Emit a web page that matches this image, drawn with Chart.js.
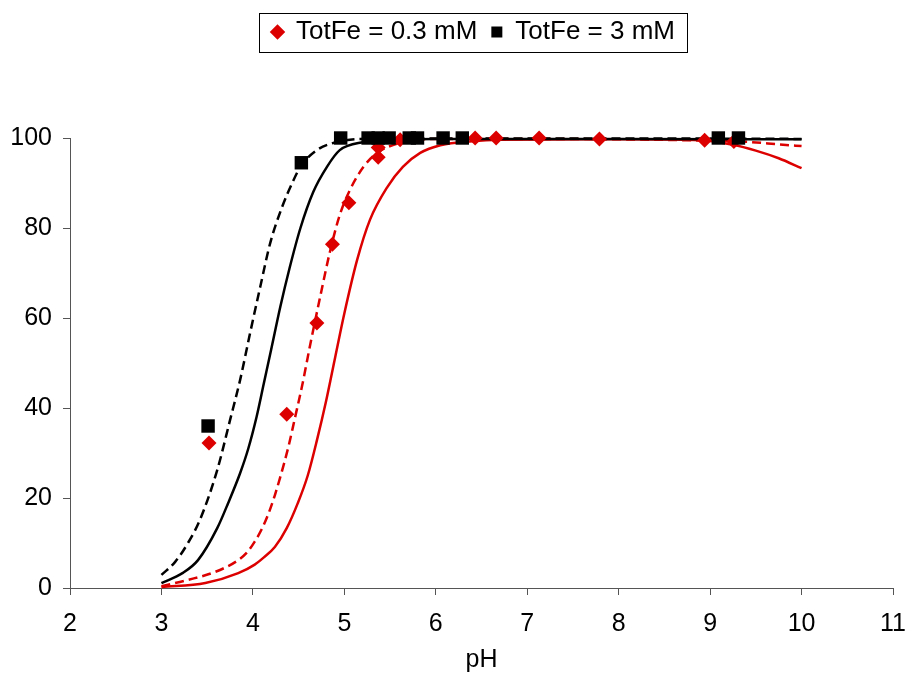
<!DOCTYPE html>
<html>
<head>
<meta charset="utf-8">
<title>Fe removal vs pH</title>
<script src="https://cdn.jsdelivr.net/npm/chart.js@4.4.1/dist/chart.umd.min.js"></script>
<style>
  html, body { margin: 0; padding: 0; background: #fff; }
  canvas { display: block; }
</style>
</head>
<body>
<canvas id="ironChart" width="908" height="675"></canvas>
<script>
// ── Measured removal (%) vs pH ───────────────────────────────────────────────
const hiFePH  = [3.51, 4.53, 4.96, 5.26, 5.37, 5.49, 5.71, 5.80, 6.08, 6.29, 9.09, 9.31];
const hiFePct = [36.0, 94.5, 100, 100, 100, 100, 100, 100, 100, 100, 100, 100];

const loFePH  = [3.52, 4.37, 4.70, 4.87, 5.05, 5.37, 5.37, 5.61, 6.43, 6.66, 7.13, 7.79, 8.94, 9.26];
const loFePct = [32.2, 38.6, 58.9, 76.4, 85.6, 95.7, 97.9, 99.6, 100, 100, 100, 99.8, 99.5, 99.2];

// ── Model curves ─────────────────────────────────────────────────────────────
// black dashed
const hiFitAPH  = [3.00, 3.15, 3.29, 3.42, 3.61, 3.75, 3.86, 3.97, 4.08, 4.19, 4.32, 4.43, 4.52, 4.70, 4.88, 5.17, 6.00, 8.00, 10.00];
const hiFitAPct = [2.9, 5.8, 10.0, 15.1, 26.2, 37.3, 46.2, 56.7, 66.9, 76.7, 84.7, 90.0, 93.6, 97.3, 98.9, 99.8, 99.9, 99.9, 99.8];
// black solid
const hiFitBPH  = [3.00, 3.23, 3.40, 3.61, 3.73, 3.86, 3.95, 4.04, 4.12, 4.20, 4.30, 4.40, 4.52, 4.66, 4.81, 4.95, 5.21, 5.47, 6.00, 8.00, 10.00];
const hiFitBPct = [1.1, 3.3, 6.2, 13.3, 18.9, 25.5, 31.0, 38.0, 45.5, 53.0, 62.5, 71.0, 80.0, 88.0, 93.6, 97.3, 99.1, 99.6, 99.8, 99.8, 99.7];
// red dashed
const loFitAPH  = [3.00, 3.29, 3.59, 3.84, 3.94, 4.02, 4.10, 4.17, 4.24, 4.30, 4.39, 4.46, 4.54, 4.63, 4.74, 4.84, 4.95, 5.06, 5.21, 5.36, 5.61, 6.02, 7.00, 8.00, 9.00, 9.44, 9.74, 10.00];
const loFitAPct = [0.4, 1.8, 3.6, 6.2, 8.0, 10.3, 13.2, 16.5, 20.6, 24.7, 31.5, 37.8, 45.1, 54.4, 65.1, 74.5, 82.9, 88.4, 93.6, 96.7, 98.9, 99.8, 99.8, 99.7, 99.4, 99.1, 98.6, 98.2];
// red solid
const loFitBPH  = [3.00, 3.48, 3.84, 4.02, 4.12, 4.24, 4.37, 4.49, 4.60, 4.70, 4.80, 4.90, 5.00, 5.14, 5.28, 5.47, 5.64, 5.83, 6.05, 6.40, 6.70, 8.00, 8.90, 9.25, 9.50, 9.75, 10.00];
const loFitBPct = [0.2, 1.1, 3.3, 5.2, 6.8, 9.1, 13.3, 18.8, 25.0, 32.8, 41.5, 51.3, 61.0, 72.9, 81.8, 89.1, 93.6, 96.7, 98.4, 99.3, 99.6, 99.7, 99.5, 98.5, 97.2, 95.5, 93.3];

// ── Axis ticks ───────────────────────────────────────────────────────────────
const X_MIN = 2, X_MAX = 11, X_STEP = 1;
const Y_MIN = 0, Y_MAX = 100, Y_STEP = 20;

const RED   = '#dd0000';
const BLACK = '#000000';
const AXIS  = '#555555';

const zip = (xs, ys) => xs.map((x, i) => ({ x, y: ys[i] }));

function curve(label, xs, ys, color, dashed) {
  return {
    label,
    data: zip(xs, ys),
    showLine: true,
    borderColor: color,
    borderWidth: 2.5,
    borderDash: dashed ? [9, 5] : [],
    pointRadius: 0,
    pointHoverRadius: 0,
    cubicInterpolationMode: 'monotone',
    fill: false,
    clip: false,
  };
}

// Legend needs a wide gap above the plot, and a thin frame round its items.
const legendSpacer = {
  id: 'legendSpacer',
  beforeInit(chart) {
    const fit = chart.legend.fit;
    chart.legend.fit = function () {
      fit.call(this);
      this.height += 83;
    };
  },
  afterLayout(chart) {
    // sits a touch left of the plot centre
    chart.legend.left -= 8;
    chart.legend.right -= 8;
  },
};

const legendFrame = {
  id: 'legendFrame',
  afterDraw(chart) {
    const boxes = chart.legend && chart.legend.legendHitBoxes;
    if (!boxes || !boxes.length) return;
    const left   = Math.min(...boxes.map(b => b.left)) - 13;
    const right  = Math.max(...boxes.map(b => b.left + b.width)) + 12;
    const top    = boxes[0].top - 6;
    const bottom = boxes[0].top + boxes[0].height + 7;
    const ctx = chart.ctx;
    ctx.save();
    ctx.strokeStyle = BLACK;
    ctx.lineWidth = 1;
    ctx.strokeRect(Math.round(left) + 0.5, Math.round(top) + 0.5,
                   Math.round(right - left), Math.round(bottom - top));
    ctx.restore();
  },
};

Chart.defaults.font.family = "'Liberation Sans', Arial, sans-serif";
Chart.defaults.color = BLACK;

new Chart(document.getElementById('ironChart'), {
  type: 'scatter',
  data: {
    datasets: [
      {
        label: 'TotFe = 3 mM',
        data: zip(hiFePH, hiFePct),
        pointStyle: 'rect',
        pointRadius: 9.5,
        backgroundColor: BLACK,
        borderColor: BLACK,
        borderWidth: 0,
        clip: false,
      },
      {
        label: 'TotFe = 0.3 mM',
        data: zip(loFePH, loFePct),
        pointStyle: 'rectRot',
        pointRadius: 7.5,
        backgroundColor: RED,
        borderColor: RED,
        borderWidth: 0,
        clip: false,
      },
      curve('fit 3 mM (a)', hiFitAPH, hiFitAPct, BLACK, true),
      curve('fit 3 mM (b)', hiFitBPH, hiFitBPct, BLACK, false),
      curve('fit 0.3 mM (a)', loFitAPH, loFitAPct, RED, true),
      curve('fit 0.3 mM (b)', loFitBPH, loFitBPct, RED, false),
    ],
  },
  options: {
    responsive: false,
    animation: false,
    layout: { padding: { left: 0, right: 15, top: 5, bottom: 0 } },
    scales: {
      x: {
        type: 'linear',
        min: X_MIN,
        max: X_MAX,
        ticks: { stepSize: X_STEP, padding: 14, color: BLACK, font: { size: 25 } },
        grid: { drawOnChartArea: false, drawTicks: true, tickLength: 7, color: AXIS },
        border: { display: true, color: AXIS, width: 1 },
        title: { display: true, text: 'pH', color: BLACK, font: { size: 25 }, padding: { top: 0, bottom: 0 } },
        afterFit(scale) {
          scale.height = 87;
          scale.paddingLeft = 0;
          scale.paddingRight = 0;
        },
      },
      y: {
        type: 'linear',
        min: Y_MIN,
        max: Y_MAX,
        ticks: { stepSize: Y_STEP, padding: 11, color: BLACK, font: { size: 25 } },
        grid: { drawOnChartArea: false, drawTicks: true, tickLength: 7, color: AXIS },
        border: { display: true, color: AXIS, width: 1 },
        afterFit(scale) {
          scale.width = 70;
          scale.paddingTop = 0;
          scale.paddingBottom = 0;
        },
      },
    },
    plugins: {
      legend: {
        position: 'top',
        fullSize: false,
        reverse: true,
        labels: {
          filter: item => item.datasetIndex < 2,
          usePointStyle: true,
          boxWidth: 11,
          boxHeight: 11,
          padding: 14,
          color: BLACK,
          font: { size: 26 },
        },
      },
      tooltip: { enabled: false },
    },
  },
  plugins: [legendSpacer, legendFrame],
});
</script>
</body>
</html>
